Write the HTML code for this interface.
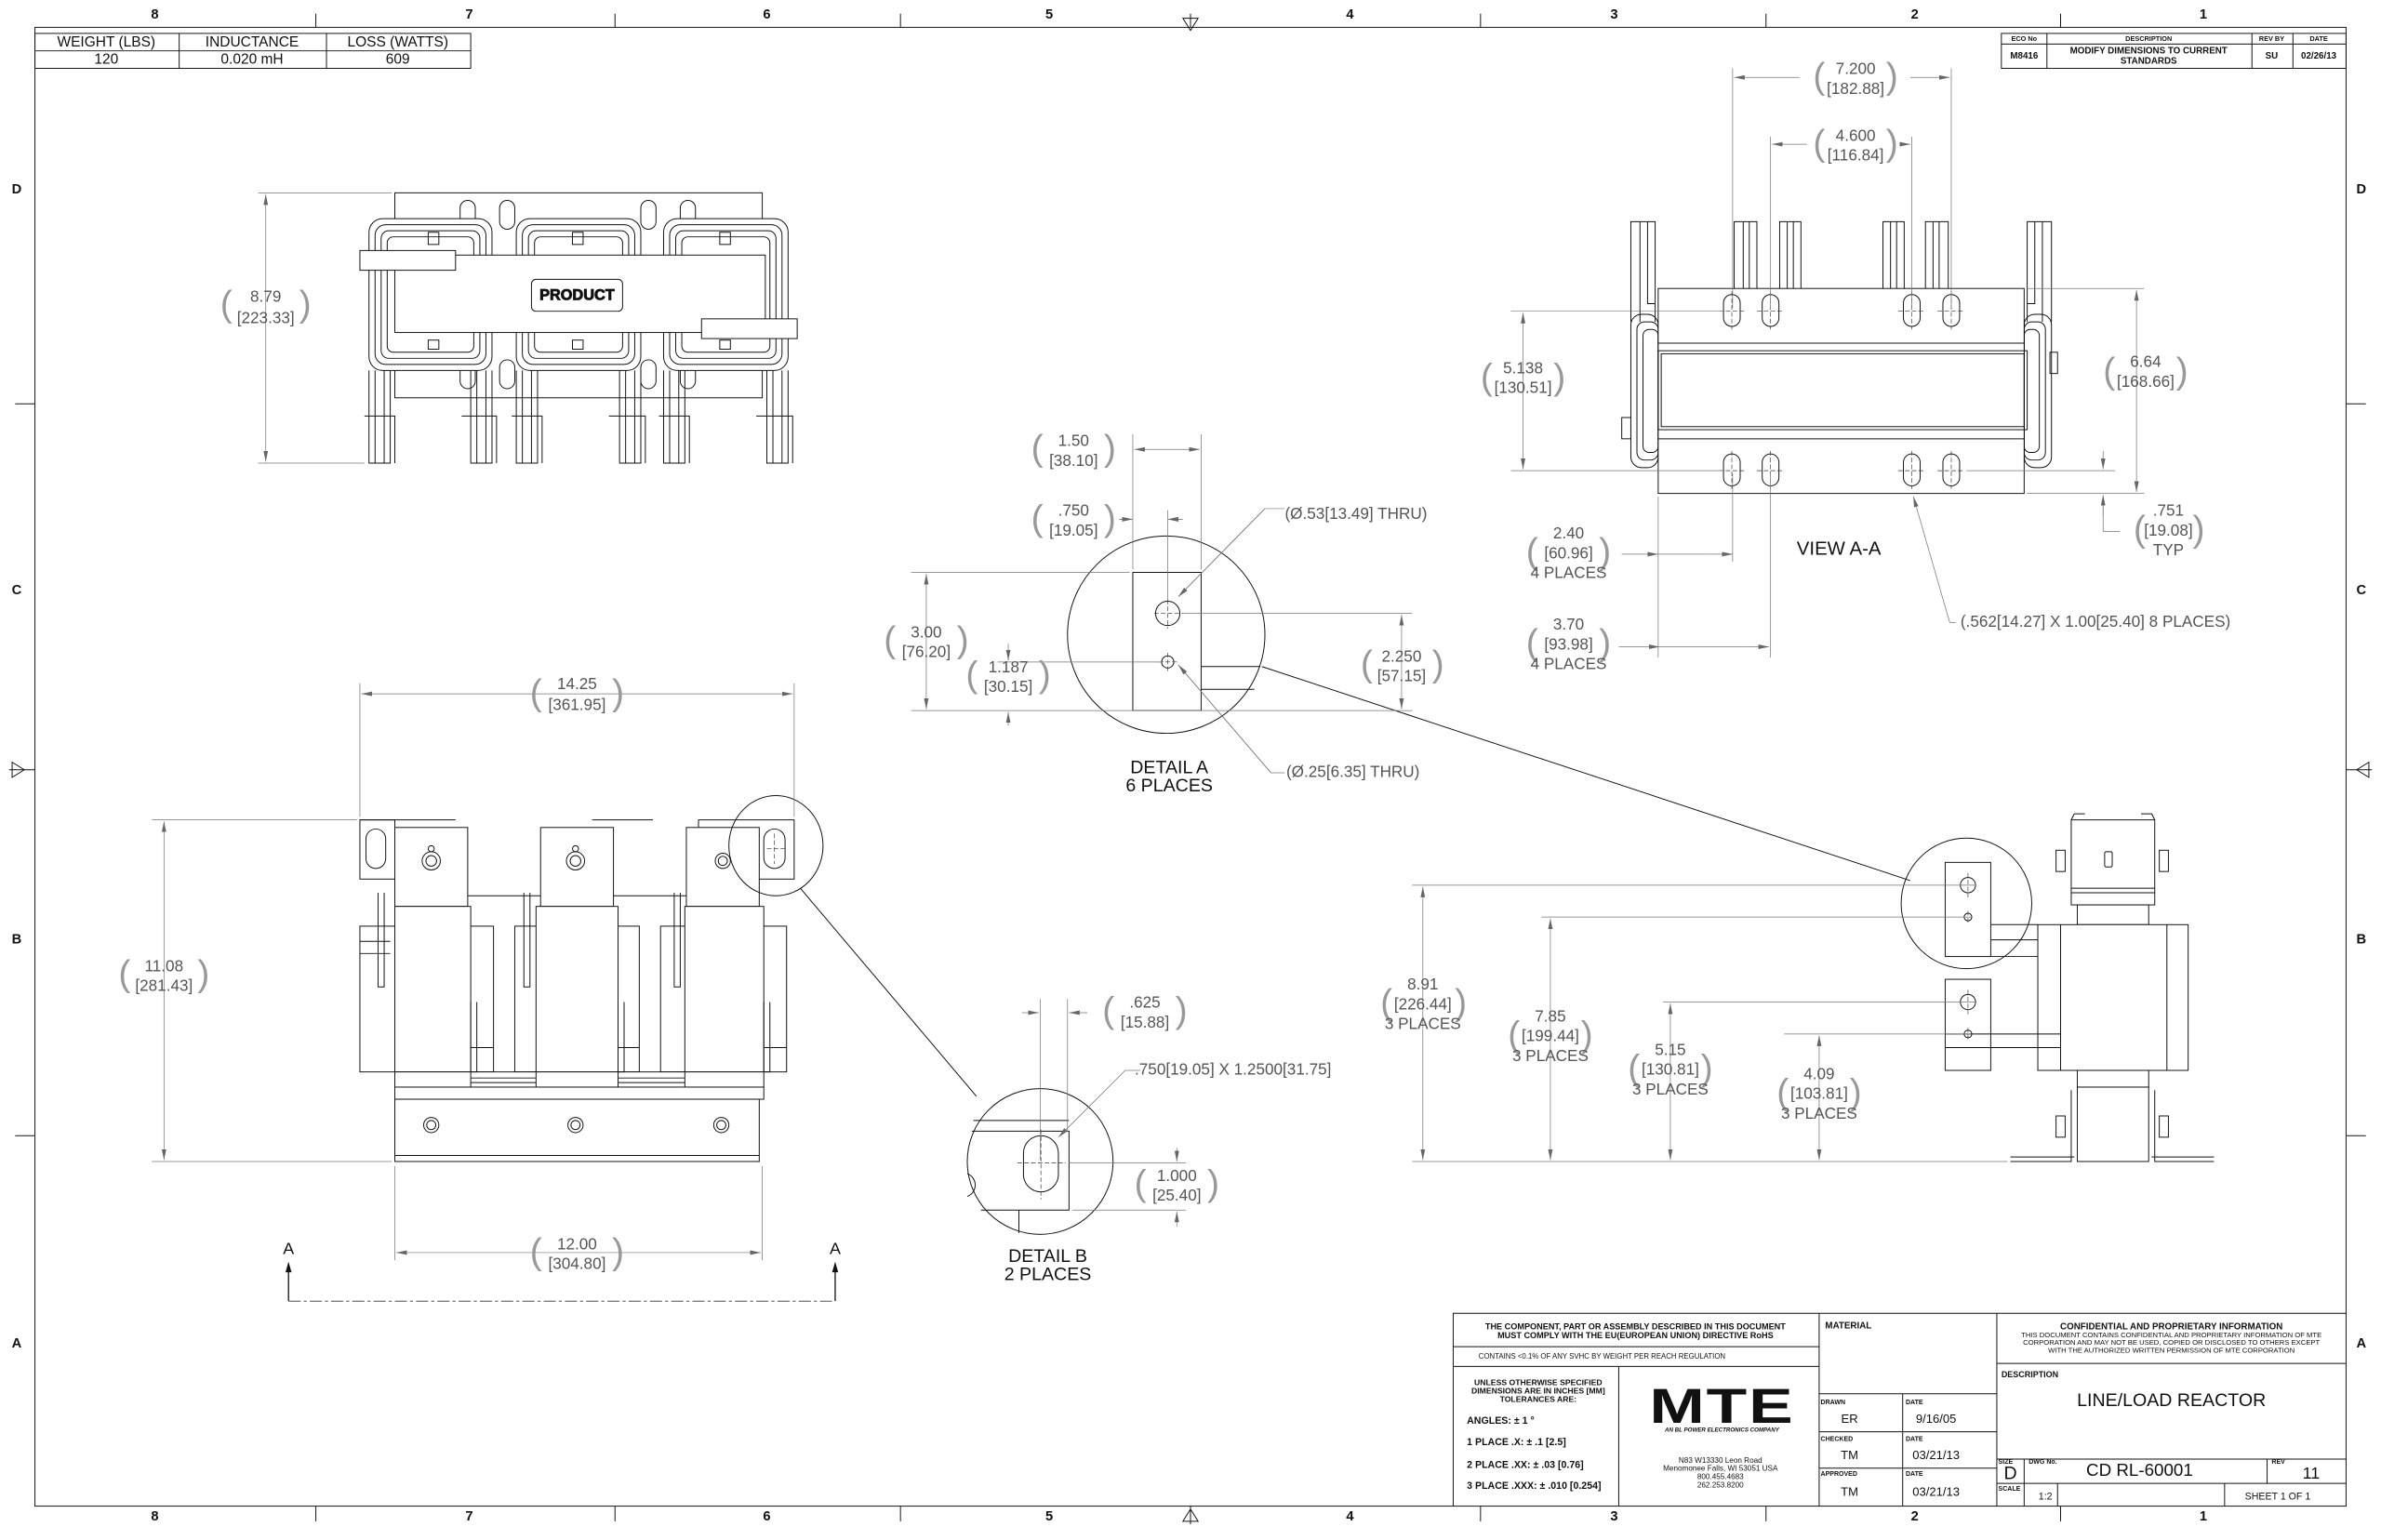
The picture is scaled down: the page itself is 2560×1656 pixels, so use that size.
<!DOCTYPE html>
<html><head><meta charset="utf-8"><style>
html,body{margin:0;padding:0;background:#fff}
svg{display:block}
.d{stroke:#111;stroke-width:.6;fill:none}
.f{stroke:#111;stroke-width:.6;fill:#fff}
.m{stroke:#777;stroke-width:.45;fill:none}
.dm{stroke:#777;stroke-width:.45;fill:none;marker-start:url(#a);marker-end:url(#a)}
.dm1{stroke:#777;stroke-width:.45;fill:none;marker-end:url(#a)}
.c{stroke:#333;stroke-width:.4;fill:none;stroke-dasharray:3 1.5}
text{font-family:"Liberation Sans",sans-serif}
.t{font-size:10.5px;fill:#555;text-anchor:middle;dominant-baseline:middle}
.p{font-size:24px;fill:#999;text-anchor:middle;dominant-baseline:middle;font-weight:100}
.z{font-size:9px;font-weight:bold;fill:#111;text-anchor:middle;dominant-baseline:middle}
.k{fill:#111;text-anchor:middle;dominant-baseline:middle}
</style></head><body>
<svg width="2560" height="1656" viewBox="0 0 1568 1014.3" xmlns="http://www.w3.org/2000/svg">
<defs>
<marker id="a" markerUnits="userSpaceOnUse" markerWidth="7" markerHeight="3" refX="7" refY="1.5" orient="auto-start-reverse"><path d="M0,0L7,1.5L0,3z" fill="#666"/></marker>
</defs>
<rect width="1568" height="1015" fill="#fff"/>
<!-- frame -->
<rect x="23" y="18" width="1522" height="974" class="d" stroke-width=".8"/>
<g class="d">
<path d="M208 9V18M405 9V18M593 9V18M975 9V18M1163 9V18M1357 9V18M784 9V18"/>
<path d="M208 992V1002M405 992V1002M593 992V1002M975 992V1002M1163 992V1002M1357 992V1002M784 992V1004"/>
<path d="M779 12L789 12L784 20z M779 1002L789 1002L784 994z"/>
<path d="M10 266H23M10 748H23M1545 266H1558M1545 748H1558M6 507H23M1545 507H1562"/>
<path d="M8 502L8 512L16 507z M1560 502L1560 512L1552 507z"/>
</g>
<g class="z">
<text x="102" y="10">8</text><text x="309" y="10">7</text><text x="505" y="10">6</text><text x="691" y="10">5</text><text x="889" y="10">4</text><text x="1063" y="10">3</text><text x="1261" y="10">2</text><text x="1451" y="10">1</text>
<text x="102" y="999">8</text><text x="309" y="999">7</text><text x="505" y="999">6</text><text x="691" y="999">5</text><text x="889" y="999">4</text><text x="1063" y="999">3</text><text x="1261" y="999">2</text><text x="1451" y="999">1</text>
<text x="11" y="125">D</text><text x="11" y="389">C</text><text x="11" y="619">B</text><text x="11" y="885">A</text>
<text x="1555" y="125">D</text><text x="1555" y="389">C</text><text x="1555" y="619">B</text><text x="1555" y="885">A</text>
</g>
<!-- weight table -->
<rect x="23" y="22" width="287" height="23" class="d"/>
<path class="d" d="M23 33.5H310M118 22V45M215 22V45"/>
<g class="k" font-size="9.5"><text x="70" y="28">WEIGHT (LBS)</text><text x="166" y="28">INDUCTANCE</text><text x="262" y="28">LOSS (WATTS)</text>
<text x="70" y="39.5">120</text><text x="166" y="39.5">0.020 mH</text><text x="262" y="39.5">609</text></g>
<!-- rev table -->
<rect x="1318" y="22" width="227" height="23" class="d"/>
<path class="d" d="M1318 29H1545M1348 22V45M1483 22V45M1510 22V45"/>
<g class="k" font-size="4.5" font-weight="bold"><text x="1333" y="25.8">ECO No</text><text x="1415" y="25.8">DESCRIPTION</text><text x="1496" y="25.8">REV BY</text><text x="1527" y="25.8">DATE</text></g>
<g class="k" font-size="6" font-weight="bold"><text x="1333" y="37">M8416</text><text x="1415" y="33.5">MODIFY DIMENSIONS TO CURRENT</text><text x="1415" y="40.5">STANDARDS</text><text x="1496" y="37">SU</text><text x="1527" y="37">02/26/13</text></g>

<!-- TOP VIEW (top-left) -->
<g>
<rect x="260" y="127" width="242" height="135" class="d"/>
<g class="d">
<rect x="303" y="132" width="10" height="19" rx="5"/><rect x="329" y="132" width="10" height="19" rx="5"/><rect x="422" y="132" width="10" height="19" rx="5"/><rect x="448" y="132" width="10" height="19" rx="5"/>
<rect x="303" y="237" width="10" height="19" rx="5"/><rect x="329" y="237" width="10" height="19" rx="5"/><rect x="422" y="237" width="10" height="19" rx="5"/><rect x="448" y="237" width="10" height="19" rx="5"/>
</g>
<g class="f">
<rect x="243" y="144" width="81" height="100" rx="9"/><rect x="340" y="144" width="82" height="100" rx="9"/><rect x="437" y="144" width="82" height="100" rx="9"/>
</g>
<g class="d">
<rect x="247" y="148" width="73" height="92" rx="7"/><rect x="251" y="152" width="65" height="84" rx="5"/><rect x="255" y="156" width="57" height="76" rx="4"/>
<rect x="344" y="148" width="74" height="92" rx="7"/><rect x="348" y="152" width="66" height="84" rx="5"/><rect x="352" y="156" width="58" height="76" rx="4"/>
<rect x="441" y="148" width="74" height="92" rx="7"/><rect x="445" y="152" width="66" height="84" rx="5"/><rect x="449" y="156" width="58" height="76" rx="4"/>
<path d="M243 244V305H257V244M247 244V305M253 244V305M310 244V305H324V244M314 244V305M320 244V305"/>
<path d="M340 244V305H354V244M344 244V305M350 244V305M408 244V305H422V244M412 244V305M418 244V305"/>
<path d="M437 244V305H451V244M441 244V305M447 244V305M505 244V305H519V244M509 244V305M515 244V305"/>
<path d="M240 274H260V305M304 274H327V305M337 274H357V305M401 274H425V305M434 274H454V305M498 274H522V305"/>
<rect x="282" y="153" width="7" height="8"/><rect x="377" y="153" width="7" height="8"/><rect x="474" y="153" width="7" height="8"/>
<rect x="282" y="224" width="7" height="6"/><rect x="377" y="224" width="7" height="6"/><rect x="474" y="224" width="7" height="6"/>
</g>
<rect x="260" y="168" width="244" height="51" class="f"/>
<rect x="237" y="165" width="63" height="13" class="f"/>
<rect x="462" y="210" width="63" height="13" class="f"/>
<rect x="350" y="184" width="60" height="21" rx="3" class="f"/>
<text x="380" y="195" class="k" font-size="10" font-weight="bold" fill="#fff" stroke="#111" stroke-width=".5">PRODUCT</text>
<path class="m" d="M170 127H258M170 305H240"/>
<path class="dm" d="M175 128V304"/>
<text class="p" x="149" y="202">(</text><text class="p" x="201" y="202">)</text>
<text class="t" x="175" y="196">8.79</text><text class="t" x="175" y="210">[223.33]</text>
</g>

<!-- FRONT VIEW (bottom-left) -->
<g>
<g class="f">
<rect x="237" y="540" width="23" height="39"/><rect x="460" y="540" width="63" height="39"/>
<rect x="260" y="545" width="48" height="52"/><rect x="356" y="545" width="48" height="52"/><rect x="452" y="545" width="48" height="52"/>
<rect x="237" y="610" width="88" height="96"/><rect x="339" y="610" width="82" height="96"/><rect x="435" y="610" width="83" height="96"/>
<rect x="260" y="597" width="50" height="109"/><rect x="353" y="597" width="54" height="109"/><rect x="451" y="597" width="52" height="109"/>
<rect x="260" y="706" width="243" height="10"/><rect x="260" y="716" width="243" height="8"/>
<rect x="260" y="724" width="240" height="41"/>
</g>
<g class="d">
<rect x="241" y="546" width="13" height="26" rx="6.5"/><rect x="503" y="546" width="14" height="26" rx="7"/>
<path d="M308 590H356M404 590H452M237 540H300M390 540H430"/>
<path d="M249 588V650H253V588M345 588V650H349V588M444 588V650H448V588"/>
<path d="M310 660V706H314V660M407 660V706H411V660M503 660V706H507V660"/>
<path d="M237 620H257M237 628H257M325 690H310M421 690H407M518 690H503"/>
<path d="M310 706V716M353 706V716M407 706V716M451 706V716M310 710H353M407 710H451M310 713H353M407 713H451"/>
<path d="M260 761H500"/>
<circle cx="284" cy="741" r="5"/><circle cx="284" cy="741" r="3"/><circle cx="379" cy="741" r="5"/><circle cx="379" cy="741" r="3"/><circle cx="475" cy="741" r="5"/><circle cx="475" cy="741" r="3"/>
<circle cx="284" cy="567" r="6"/><circle cx="284" cy="567" r="3.5"/><circle cx="284" cy="559" r="2"/>
<circle cx="379" cy="567" r="6"/><circle cx="379" cy="567" r="3.5"/><circle cx="379" cy="559" r="2"/>
<circle cx="476" cy="567" r="5"/><circle cx="476" cy="567" r="3"/>
<ellipse cx="511" cy="557" rx="31" ry="33"/>
<path d="M527 585L643 722"/>
</g>
<path class="c" d="M505 559H517M510 549V569"/>
<path class="m" d="M237 450V538M523 450V538M100 540H235M100 765H258M260 768V830M502 768V830"/>
<path class="dm" d="M238 457H522"/>
<path class="dm" d="M108 541V764"/>
<path class="dm" d="M261 825H501"/>
<text class="p" x="353" y="458">(</text><text class="p" x="407" y="458">)</text>
<text class="t" x="380" y="451">14.25</text><text class="t" x="380" y="465">[361.95]</text>
<text class="p" x="82" y="643">(</text><text class="p" x="134" y="643">)</text>
<text class="t" x="108" y="637">11.08</text><text class="t" x="108" y="650">[281.43]</text>
<text class="p" x="353" y="826">(</text><text class="p" x="407" y="826">)</text>
<text class="t" x="380" y="820">12.00</text><text class="t" x="380" y="833">[304.80]</text>
<text class="k" x="190" y="823" font-size="11">A</text><text class="k" x="550" y="823" font-size="11">A</text>
<path d="M190 857V836M550 857V836" stroke="#111" stroke-width=".8"/>
<path d="M188 838L190 831L192 838zM548 838L550 831L552 838z" fill="#111"/>
<path d="M190 857H550" stroke="#333" stroke-width=".5" stroke-dasharray="8 2 2 2"/>
</g>

<!-- DETAIL A -->
<g>
<ellipse cx="768" cy="418" rx="65" ry="65" class="d"/>
<rect x="746" y="377" width="45" height="91" class="d"/>
<circle cx="769" cy="404" r="8" class="d"/><circle cx="769" cy="436" r="4" class="d"/>
<path class="c" d="M760 404H779M769 395V414M763 436H775M769 430V442"/>
<path class="d" d="M791 439H830M791 454H826"/>
<path class="d" d="M831 439L1258 580"/>
<path class="m" d="M746 286V375M791 286V375M769 336V395M600 377H744M600 468H833M657 436H765M779 404H930M793 468H930"/>
<path class="dm" d="M747 296H790"/>
<path class="dm" d="M737 342H746M779 342H769" style="marker-start:none"/>
<path class="dm1" d="M737 342H746"/><path class="dm1" d="M778 342H769"/>
<path class="dm" d="M610 378V467"/>
<path class="dm1" d="M664 424V435"/><path class="dm1" d="M664 478V469"/>
<path class="dm" d="M923 405V467"/>
<path class="m" d="M846 335H833L776 393"/><path class="dm1" d="M833 335L776 393" style="stroke:#777"/>
<path class="m" d="M846 509H837L776 438"/><path class="dm1" d="M837 509L776 438"/>
<text class="p" x="683" y="297">(</text><text class="p" x="731" y="297">)</text>
<text class="t" x="707" y="291">1.50</text><text class="t" x="707" y="304">[38.10]</text>
<text class="p" x="683" y="343">(</text><text class="p" x="731" y="343">)</text>
<text class="t" x="707" y="337">.750</text><text class="t" x="707" y="350">[19.05]</text>
<text class="p" x="586" y="423">(</text><text class="p" x="634" y="423">)</text>
<text class="t" x="610" y="417">3.00</text><text class="t" x="610" y="430">[76.20]</text>
<text class="p" x="640" y="446">(</text><text class="p" x="688" y="446">)</text>
<text class="t" x="664" y="440">1.187</text><text class="t" x="664" y="453">[30.15]</text>
<text class="p" x="900" y="439">(</text><text class="p" x="947" y="439">)</text>
<text class="t" x="923" y="433">2.250</text><text class="t" x="923" y="446">[57.15]</text>
<text class="t" x="893" y="339">(Ø.53[13.49] THRU)</text>
<text class="t" x="891" y="509">(Ø.25[6.35] THRU)</text>
<text class="k" x="770" y="506" font-size="12">DETAIL A</text><text class="k" x="770" y="518" font-size="12">6 PLACES</text>
</g>

<!-- DETAIL B -->
<g>
<circle cx="685" cy="765" r="48" class="d"/>
<path class="d" d="M641 738H704M640 745H704V797H646M671 797V812"/>
<path class="d" d="M637 773A8 8 0 0 1 637 788"/>
<rect x="674" y="748" width="23" height="37" rx="11.5" class="d"/>
<path class="c" d="M670 766H702M685.5 744V790"/>
<path class="m" d="M685 658V764M703 658V745M704 766H781M706 797H781"/>
<path class="dm1" d="M673 667H684"/><path class="dm1" d="M716 667H704"/>
<path class="dm1" d="M775 756V765"/><path class="dm1" d="M775 808V798"/>
<path class="m" d="M751 705H741"/><path class="dm1" d="M741 705L697 749"/>
<text class="p" x="730" y="667">(</text><text class="p" x="778" y="667">)</text>
<text class="t" x="754" y="661">.625</text><text class="t" x="754" y="674">[15.88]</text>
<text class="p" x="751" y="781">(</text><text class="p" x="799" y="781">)</text>
<text class="t" x="775" y="775">1.000</text><text class="t" x="775" y="788">[25.40]</text>
<text class="t" x="812" y="705" text-anchor="middle">.750[19.05] X 1.2500[31.75]</text>
<text class="k" x="690" y="828" font-size="12">DETAIL B</text><text class="k" x="690" y="840" font-size="12">2 PLACES</text>
</g>

<!-- VIEW A-A -->
<g>
<g class="d">
<path d="M1074 212V146H1090V212M1080 146V212M1085 146V200H1090"/>
<path d="M1335 212V146H1351V212M1345 146V212M1340 146V200H1335"/>
<path d="M1142 190V146H1157V190M1148 146V190M1152 146V190"/>
<path d="M1172 190V146H1186V190M1177 146V190M1181 146V190"/>
<path d="M1240 190V146H1254V190M1245 146V190M1249 146V190"/>
<path d="M1268 190V146H1283V190M1273 146V190M1277 146V190"/>
<rect x="1074" y="207" width="18" height="101" rx="7"/><rect x="1078" y="212" width="14" height="91" rx="5"/><rect x="1082" y="217" width="10" height="81" rx="4"/>
<rect x="1333" y="207" width="18" height="101" rx="7"/><rect x="1333" y="212" width="14" height="91" rx="5"/><rect x="1333" y="217" width="10" height="81" rx="4"/>
<rect x="1350" y="232" width="5" height="14"/><rect x="1068" y="275" width="6" height="14"/>
</g>
<rect x="1092" y="190" width="241" height="135" class="f"/>
<g class="d">
<path d="M1092 226H1333M1092 289H1333"/>
<rect x="1092" y="231" width="243" height="52"/><rect x="1094" y="233" width="239" height="48"/>
<rect x="1135" y="194" width="11" height="21" rx="5.5"/><rect x="1160.5" y="194" width="11" height="21" rx="5.5"/><rect x="1253.5" y="194" width="11" height="21" rx="5.5"/><rect x="1279.5" y="194" width="11" height="21" rx="5.5"/>
<rect x="1135" y="299" width="11" height="21" rx="5.5"/><rect x="1160.5" y="299" width="11" height="21" rx="5.5"/><rect x="1253.5" y="299" width="11" height="21" rx="5.5"/><rect x="1279.5" y="299" width="11" height="21" rx="5.5"/>
</g>
<path class="c" d="M1132 205H1149M1157 205H1175M1250 205H1268M1276 205H1294M1132 310H1149M1157 310H1175M1250 310H1268M1276 310H1294M1140.5 192V217M1166 192V217M1259 192V217M1285 192V217M1140.5 297V322M1166 297V322M1259 297V322M1285 297V322"/>
<path class="m" d="M1141 45V203M1285 45V203M1166 90V203M1259 90V203M995 205H1136M995 310H1136M1295 310H1393M1335 190H1412M1335 325H1412M1092 327V433M1141 312V370M1166 312V433"/>
<path class="dm1" d="M1185 51H1142"/><path class="dm1" d="M1258 51H1284"/>
<path class="dm1" d="M1190 95H1167"/><path class="dm1" d="M1255 95H1258"/>
<path class="dm" d="M1003 206V309"/>
<path class="dm" d="M1407 191V324"/>
<path class="dm1" d="M1385 297V309"/><path class="m" d="M1396 350H1385V328"/><path class="dm1" d="M1385 340V326"/>
<path class="dm1" d="M1068 365H1092"/><path class="dm1" d="M1125 365H1141"/><path class="m" d="M1092 365H1125"/>
<path class="dm1" d="M1066 426H1093"/><path class="m" d="M1093 426H1150"/><path class="dm1" d="M1150 426H1165"/>
<path class="m" d="M1288 410H1284"/><path class="dm1" d="M1284 410L1260 327"/>
<text class="p" x="1198" y="52">(</text><text class="p" x="1246" y="52">)</text>
<text class="t" x="1222" y="46">7.200</text><text class="t" x="1222" y="59">[182.88]</text>
<text class="p" x="1198" y="96">(</text><text class="p" x="1246" y="96">)</text>
<text class="t" x="1222" y="90">4.600</text><text class="t" x="1222" y="103">[116.84]</text>
<text class="p" x="979" y="250">(</text><text class="p" x="1027" y="250">)</text>
<text class="t" x="1003" y="243">5.138</text><text class="t" x="1003" y="256">[130.51]</text>
<text class="p" x="1389" y="246">(</text><text class="p" x="1437" y="246">)</text>
<text class="t" x="1413" y="239">6.64</text><text class="t" x="1413" y="252">[168.66]</text>
<text class="p" x="1409" y="350">(</text><text class="p" x="1448" y="350">)</text>
<text class="t" x="1428" y="337">.751</text><text class="t" x="1428" y="350">[19.08]</text><text class="t" x="1428" y="363">TYP</text>
<text class="p" x="1009" y="365">(</text><text class="p" x="1057" y="365">)</text>
<text class="t" x="1033" y="352">2.40</text><text class="t" x="1033" y="365">[60.96]</text><text class="t" x="1033" y="378">4 PLACES</text>
<text class="p" x="1009" y="425">(</text><text class="p" x="1057" y="425">)</text>
<text class="t" x="1033" y="412">3.70</text><text class="t" x="1033" y="425">[93.98]</text><text class="t" x="1033" y="438">4 PLACES</text>
<text class="k" x="1211" y="362" font-size="12.5">VIEW A-A</text>
<text class="t" x="1380" y="410">(.562[14.27] X 1.00[25.40] 8 PLACES)</text>
</g>

<!-- SIDE VIEW (bottom-right) -->
<g>
<g class="f">
<rect x="1364" y="540" width="55" height="56"/>
<rect x="1368" y="596" width="47" height="13"/>
<rect x="1342" y="609" width="99" height="96"/>
<rect x="1368" y="705" width="47" height="11"/>
<rect x="1368" y="716" width="47" height="49"/>
<rect x="1281" y="568" width="30" height="62"/>
<rect x="1281" y="645" width="30" height="60"/>
</g>
<g class="d">
<path d="M1357 609V705M1427 609V705M1311 609H1342M1311 619H1342M1311 630H1342M1281 681H1357M1281 690H1357"/>
<path d="M1364 540L1366 536H1373M1419 540L1417 536H1410M1364 585H1419M1364 588H1419"/>
<path d="M1324 765H1364V718M1419 718V765H1458M1324 762H1366M1417 762H1458"/>
<rect x="1354" y="560" width="6" height="14"/><rect x="1422" y="560" width="6" height="14"/>
<rect x="1354" y="735" width="6" height="14"/><rect x="1422" y="735" width="6" height="14"/>
<rect x="1386" y="561" width="5" height="10" rx="1"/>
<circle cx="1296" cy="583" r="5"/><circle cx="1296" cy="604" r="2.5"/>
<circle cx="1296" cy="660" r="5"/><circle cx="1296" cy="681" r="2.5"/>
<circle cx="1295" cy="595" r="43"/>
</g>
<path class="c" d="M1296 575V591M1296 600V608M1296 652V668M1296 677V685"/>
<path class="m" d="M930 583H1301M1015 604H1298M1095 660H1301M1175 681H1298M930 765H1322"/>
<path class="dm" d="M937 584V764"/>
<path class="dm" d="M1021 605V764"/>
<path class="dm" d="M1100 661V764"/>
<path class="dm" d="M1198 682V764"/>
<text class="p" x="913" y="662">(</text><text class="p" x="962" y="662">)</text>
<text class="t" x="937" y="649">8.91</text><text class="t" x="937" y="662">[226.44]</text><text class="t" x="937" y="675">3 PLACES</text>
<text class="p" x="997" y="683">(</text><text class="p" x="1045" y="683">)</text>
<text class="t" x="1021" y="670">7.85</text><text class="t" x="1021" y="683">[199.44]</text><text class="t" x="1021" y="696">3 PLACES</text>
<text class="p" x="1076" y="705">(</text><text class="p" x="1124" y="705">)</text>
<text class="t" x="1100" y="692">5.15</text><text class="t" x="1100" y="705">[130.81]</text><text class="t" x="1100" y="718">3 PLACES</text>
<text class="p" x="1174" y="721">(</text><text class="p" x="1222" y="721">)</text>
<text class="t" x="1198" y="708">4.09</text><text class="t" x="1198" y="721">[103.81]</text><text class="t" x="1198" y="734">3 PLACES</text>
</g>

<!-- TITLE BLOCK -->
<g>
<path class="d" d="M957 992V865H1545M957 887H1198M957 900H1198M1066 900V992M1198 865V992M1198 918H1315M1198 943H1315M1198 967H1315M1253 918V992M1315 865V992M1315 898H1545M1315 961H1545M1315 977H1545M1333 961V992M1493 961V977M1355 977V992M1465 977V992"/>
<g class="k" font-weight="bold" font-size="5.6">
<text x="1077" y="874">THE COMPONENT, PART OR ASSEMBLY DESCRIBED IN THIS DOCUMENT</text>
<text x="1077" y="880">MUST COMPLY WITH THE EU(EUROPEAN UNION) DIRECTIVE RoHS</text>
</g>
<text class="k" x="1055" y="893.5" font-size="4.8">CONTAINS &lt;0.1% OF ANY SVHC BY WEIGHT PER REACH REGULATION</text>
<g class="k" font-weight="bold" font-size="5.3">
<text x="1013" y="911">UNLESS OTHERWISE SPECIFIED</text><text x="1013" y="916.5">DIMENSIONS ARE IN INCHES [MM]</text><text x="1013" y="922">TOLERANCES ARE:</text>
</g>
<g font-weight="bold" font-size="6.5" fill="#111" dominant-baseline="middle">
<text x="966" y="936">ANGLES: ± 1 °</text><text x="966" y="950">1 PLACE .X: ± .1 [2.5]</text><text x="966" y="965">2 PLACE .XX: ± .03 [0.76]</text><text x="966" y="979">3 PLACE .XXX: ± .010 [0.254]</text>
</g>
<text x="1134" y="937" text-anchor="middle" font-size="38" font-weight="bold" fill="#111" letter-spacing="1" transform="translate(1134 937) scale(1.15 0.85) translate(-1134 -937)">MTE</text>
<text class="k" x="1134" y="942" font-size="3.8" font-weight="bold" font-style="italic">AN BL POWER ELECTRONICS COMPANY</text>
<g class="k" font-size="5" fill="#333">
<text x="1133" y="962">N83 W13330 Leon Road</text><text x="1133" y="967.5">Menomonee Falls, WI 53051 USA</text><text x="1133" y="973">800.455.4683</text><text x="1133" y="978.5">262.253.8200</text>
</g>
<text x="1202" y="875" font-size="6" font-weight="bold" fill="#111">MATERIAL</text>
<g font-size="4.3" font-weight="bold" fill="#111">
<text x="1199" y="925">DRAWN</text><text x="1255" y="925">DATE</text><text x="1199" y="949">CHECKED</text><text x="1255" y="949">DATE</text><text x="1199" y="972">APPROVED</text><text x="1255" y="972">DATE</text>
<text x="1316" y="964">SIZE</text><text x="1336" y="964">DWG No.</text><text x="1496" y="964">REV</text><text x="1316" y="982">SCALE</text>
</g>
<g class="k" fill="#444" font-size="8">
<text x="1218" y="935">ER</text><text x="1275" y="935">9/16/05</text>
<text x="1218" y="959">TM</text><text x="1275" y="959">03/21/13</text>
<text x="1218" y="983">TM</text><text x="1275" y="983">03/21/13</text>
</g>
<g class="k" font-weight="bold" font-size="6">
<text x="1430" y="874">CONFIDENTIAL AND PROPRIETARY INFORMATION</text>
</g>
<g class="k" font-size="4.7" fill="#222">
<text x="1430" y="879.5">THIS DOCUMENT CONTAINS CONFIDENTIAL AND PROPRIETARY INFORMATION OF MTE</text>
<text x="1430" y="884.5">CORPORATION AND MAY NOT BE USED, COPIED OR DISCLOSED TO OTHERS EXCEPT</text>
<text x="1430" y="889.5">WITH THE AUTHORIZED WRITTEN PERMISSION OF MTE CORPORATION</text>
</g>
<text x="1318" y="907" font-size="5.5" font-weight="bold" fill="#111">DESCRIPTION</text>
<text class="k" x="1430" y="923" font-size="12" fill="#333">LINE/LOAD REACTOR</text>
<text class="k" x="1324" y="971" font-size="12" fill="#333">D</text>
<text class="k" x="1409" y="969" font-size="11.5" fill="#333">CD RL-60001</text>
<text class="k" x="1522" y="971" font-size="11" fill="#333">11</text>
<text class="k" x="1347" y="986" font-size="6.5" fill="#555">1:2</text>
<text class="k" x="1500" y="986" font-size="6.5" fill="#555">SHEET 1  OF 1</text>
</g>
</svg>
</body></html>
